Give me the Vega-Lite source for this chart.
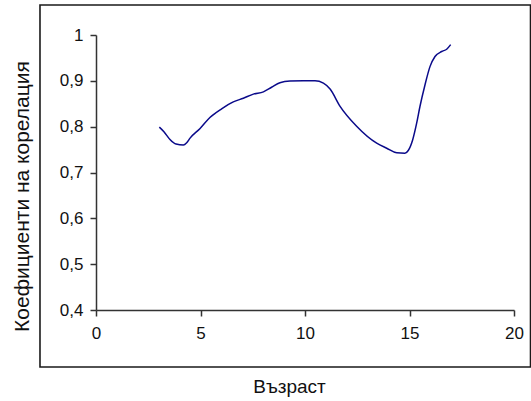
{
  "$schema": "https://vega.github.io/schema/vega-lite/v6.json",
  "autosize": {"type": "none"},
  "width": 418,
  "height": 275,
  "padding": {"left": 96, "top": 35, "right": 17, "bottom": 91},
  "background": "white",
  "config": {
    "view": {"stroke": null},
    "font": "Liberation Sans"
  },
  "datasets": {
    "curve": [
      {"age": 3.03, "r": 0.799},
      {"age": 3.25, "r": 0.789},
      {"age": 3.54, "r": 0.772},
      {"age": 3.83, "r": 0.762},
      {"age": 4.18, "r": 0.76},
      {"age": 4.34, "r": 0.765},
      {"age": 4.5, "r": 0.775},
      {"age": 4.98, "r": 0.796},
      {"age": 5.45, "r": 0.82},
      {"age": 6.01, "r": 0.839},
      {"age": 6.57, "r": 0.854},
      {"age": 7.05, "r": 0.862},
      {"age": 7.53, "r": 0.871},
      {"age": 8.01, "r": 0.876},
      {"age": 8.4, "r": 0.886},
      {"age": 8.8, "r": 0.896},
      {"age": 9.28, "r": 0.8995},
      {"age": 9.92, "r": 0.9},
      {"age": 10.48, "r": 0.9},
      {"age": 10.88, "r": 0.895},
      {"age": 11.2, "r": 0.882},
      {"age": 11.67, "r": 0.845},
      {"age": 12.47, "r": 0.801},
      {"age": 13.43, "r": 0.764},
      {"age": 13.91, "r": 0.753},
      {"age": 14.39, "r": 0.743},
      {"age": 14.78, "r": 0.742},
      {"age": 14.94, "r": 0.748},
      {"age": 15.15, "r": 0.771},
      {"age": 15.34, "r": 0.807},
      {"age": 15.5, "r": 0.844},
      {"age": 15.74, "r": 0.891},
      {"age": 15.98, "r": 0.931},
      {"age": 16.22, "r": 0.953},
      {"age": 16.54, "r": 0.964},
      {"age": 16.78, "r": 0.969},
      {"age": 16.97, "r": 0.979}
    ],
    "frame": [
      {"x0": -2.68, "x1": 20.79, "y0": 0.2756, "y1": 1.0655}
    ]
  },
  "layer": [
    {
      "data": {"name": "frame"},
      "mark": {"type": "rect", "fill": null, "stroke": "#1a1a1a", "strokeWidth": 1.6},
      "encoding": {
        "x": {"field": "x0", "type": "quantitative"},
        "x2": {"field": "x1"},
        "y": {"field": "y0", "type": "quantitative"},
        "y2": {"field": "y1"}
      }
    },
    {
      "data": {"name": "curve"},
      "mark": {"type": "line", "color": "#0a0a8a", "strokeWidth": 1.5, "interpolate": "monotone"},
      "encoding": {
        "x": {
          "field": "age",
          "type": "quantitative",
          "scale": {"domain": [0, 20], "nice": false, "zero": false},
          "axis": {
            "title": "Възраст",
            "values": [0, 5, 10, 15, 20],
            "grid": false,
            "labelFlush": false,
            "labelOverlap": false,
            "domainColor": "#333",
            "domainWidth": 1.5,
            "tickColor": "#333",
            "tickWidth": 1.5,
            "tickSize": 6,
            "labelPadding": 9,
            "labelFontSize": 17,
            "labelColor": "#111",
            "labelFont": "Liberation Sans",
            "titleFont": "Liberation Sans",
            "titleFontSize": 19,
            "titleFontWeight": "normal",
            "titleColor": "#111",
            "titleX": 193,
            "titleY": 82,
            "titleBaseline": "alphabetic"
          }
        },
        "y": {
          "field": "r",
          "type": "quantitative",
          "scale": {"domain": [0.4, 1], "nice": false, "zero": false},
          "axis": {
            "title": "Коефициенти на корелация",
            "values": [0.4, 0.5, 0.6, 0.7, 0.8, 0.9, 1],
            "labelExpr": "replace(format(datum.value, '.1~f'), '.', ',')",
            "grid": false,
            "labelFlush": false,
            "labelOverlap": false,
            "domainColor": "#333",
            "domainWidth": 1.5,
            "tickColor": "#333",
            "tickWidth": 1.5,
            "tickSize": 6,
            "labelPadding": 7,
            "labelFontSize": 17,
            "labelColor": "#111",
            "labelFont": "Liberation Sans",
            "titleFont": "Liberation Sans",
            "titleFontSize": 21,
            "titleFontWeight": "normal",
            "titleColor": "#111",
            "titleX": -68,
            "titleY": 161,
            "titleBaseline": "alphabetic"
          }
        }
      }
    }
  ]
}
